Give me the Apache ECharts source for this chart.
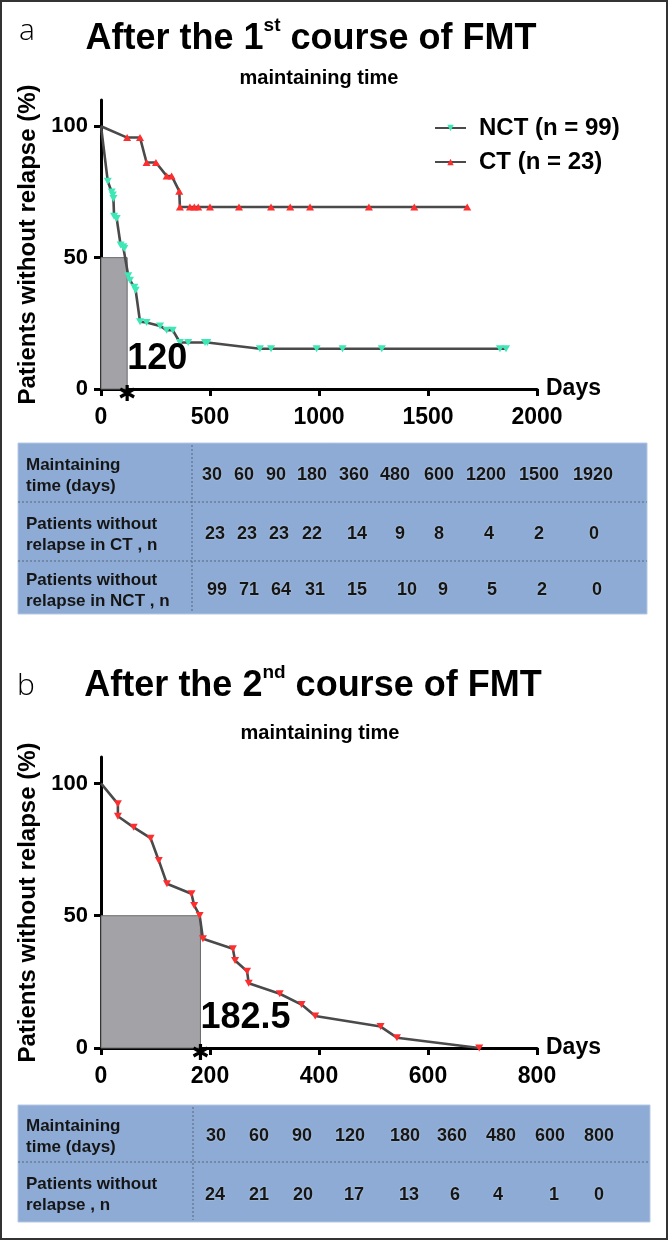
<!DOCTYPE html>
<html><head><meta charset="utf-8">
<script src="https://cdn.jsdelivr.net/npm/echarts@6/dist/echarts.min.js"></script>
<style>html,body{margin:0;padding:0;background:#fff}#c{width:668px;height:1240px}</style>
</head><body><div id="c"></div>
<script>
const F = "'Liberation Sans', Arial, Helvetica, sans-serif";

// ---------- Panel a data (days, % without relapse) ----------
const nctDays = [0,31,49,54,57,60,72,90,102,107,125,133,153,159,179,209,271,301,329,362,400,477,488,729,780,989,1108,1288,1830,1858];
const nctSurv = [100,79.1,75,73.8,72.5,65.8,64.9,54.8,54.1,53.5,43.1,41.4,38.7,37.6,25.6,25.3,24,22.4,22.4,17.7,17.7,17.7,17.7,15.3,15.3,15.3,15.3,15.3,15.3,15.3];
const ctDays = [0,120,179,209,252,301,324,359,362,408,428,446,500,633,780,868,959,1229,1437,1680];
const ctSurv = [100,95.7,95.7,86.2,86.2,81.1,81.1,75.3,69.3,69.3,69.3,69.3,69.3,69.3,69.3,69.3,69.3,69.3,69.3,69.3];
const medianA = 120;

// ---------- Panel b data ----------
const bDays = [0,31,31,60,91,106,121,166,171,181,187,242,246,268,271,328,368,393,513,543,694];
const bSurv = [100,92.3,87.6,83.4,79.3,70.9,62.1,58.3,53.9,50.1,41.3,37.5,33.1,29.0,24.5,20.5,16.4,12.1,8.1,3.9,0];
const medianB = 182.5;

// ---------- axis ticks ----------
const yTicks = [0,50,100];
const xTicksA = [0,500,1000,1500,2000];
const xTicksB = [0,200,400,600,800];

// ---------- tables ----------
const tA_time = ['30','60','90','180','360','480','600','1200','1500','1920'];
const tA_ct   = ['23','23','23','22','14','9','8','4','2','0'];
const tA_nct  = ['99','71','64','31','15','10','9','5','2','0'];
const tB_time = ['30','60','90','120','180','360','480','600','800'];
const tB_n    = ['24','21','20','17','13','6','4','1','0'];

const downTri = 'path://M0,0 L10,0 L5,8.66 Z';
const asterisk = 'path://M-1.2,6 L1.2,6 L1.2,-6 L-1.2,-6 Z M4.596,4.039 L5.796,1.961 L-4.596,-4.039 L-5.796,-1.961 Z M-5.796,1.961 L-4.596,4.039 L5.796,-1.961 L4.596,-4.039 Z';

function pts(d, v) { return d.map((x, i) => i === 0 ? {value: [x, v[i]], symbol: 'none'} : [x, v[i]]); }

const chart = echarts.init(document.getElementById('c'), null, {renderer: 'canvas'});

function xAxis(gi, max, interval, ticks) {
  return {
    type: 'value', gridIndex: gi, min: 0, max: max, interval: interval,
    name: 'Days', nameLocation: 'end', nameGap: 9,
    nameTextStyle: {fontFamily: F, fontWeight: 'bold', fontSize: 23, color: '#000', verticalAlign: 'middle'},
    axisLine: {show: true, onZero: false, lineStyle: {color: '#000', width: 3}},
    axisTick: {show: true, length: 7, lineStyle: {color: '#000', width: 3}, customValues: ticks},
    axisLabel: {fontFamily: F, fontWeight: 'bold', fontSize: 23, color: '#000', margin: 17, customValues: ticks,
      formatter: v => String(v)},
    splitLine: {show: false}
  };
}
function yAxis(gi) {
  return {
    type: 'value', gridIndex: gi, min: 0, max: 110, interval: 50,
    name: 'Patients without relapse (%)', nameLocation: 'middle', nameGap: 56,
    nameTextStyle: {fontFamily: F, fontWeight: 'bold', fontSize: 24, color: '#000'},
    axisLine: {show: true, onZero: false, lineStyle: {color: '#000', width: 3}},
    axisTick: {show: true, length: 7, lineStyle: {color: '#000', width: 3}, customValues: yTicks},
    axisLabel: {fontFamily: F, fontWeight: 'bold', fontSize: 22, color: '#000', margin: 13, customValues: yTicks,
      formatter: v => String(v)},
    splitLine: {show: false}
  };
}

const lineStyle = {color: '#4a4a4a', width: 2.6};

function medianSeries(gi, med) {
  return [{
    type: 'line', xAxisIndex: gi, yAxisIndex: gi, data: [], z: 1, silent: true,
    markArea: {silent: true, itemStyle: {color: '#a3a3a7', borderColor: '#6a6a6a', borderWidth: 1, opacity: 1},
      data: [[{coord: [0, 0]}, {coord: [med, 50]}]]}
  }, {
    type: 'scatter', xAxisIndex: gi, yAxisIndex: gi, z: 5, silent: true,
    data: [[med, 0]], symbol: asterisk, symbolSize: 16, symbolKeepAspect: true, symbolOffset: [0, 4],
    itemStyle: {color: '#000', opacity: 1},
    label: {show: true, formatter: String(med), position: 'top', align: 'left', offset: [0, -3],
      fontFamily: F, fontWeight: 'bold', fontSize: 36, color: '#000', opacity: 1}
  }];
}

// ---------- graphic: titles, tables, border ----------
const graphic = [];
graphic.push({type: 'rect', shape: {x: 1, y: 1, width: 666, height: 1238}, style: {fill: 'none', stroke: '#333', lineWidth: 2}, z: 100});
function titleText(cx, cy, pre, sup, post) {
  graphic.push({type: 'text', x: cx, y: cy, style: {
    text: '{t|' + pre + '}{s|' + sup + '}{t|' + post + '}', align: 'center', verticalAlign: 'middle',
    rich: {t: {fontSize: 36, fontWeight: 'bold', fontFamily: F, fill: '#000'},
           s: {fontSize: 19, fontWeight: 'bold', fontFamily: F, fill: '#000', padding: [0, 0, 26, 0]}}}});
}
function plainText(x, y, txt, size, weight, align, fam) {
  graphic.push({type: 'text', x: x, y: y, style: {text: txt, fontSize: size, fontWeight: weight, fontFamily: fam || F,
    fill: '#000', align: align || 'center', verticalAlign: 'middle'}});
}
plainText(27, 31, 'a', 30, 300, 'center', "'Open Sans', 'Lato', sans-serif");
titleText(311, 39, 'After the 1', 'st', ' course of FMT');
plainText(319, 78, 'maintaining time', 20, 'bold');
plainText(26, 686, 'b', 30, 300, 'center', "'Open Sans', 'Lato', sans-serif");
titleText(313, 686, 'After the 2', 'nd', ' course of FMT');
plainText(320, 733, 'maintaining time', 20, 'bold');

function table(left, right, rows, sep, labels, values, cols) {
  const top = rows[0], bottom = rows[rows.length - 1];
  graphic.push({type: 'rect', shape: {x: left, y: top, width: right - left, height: bottom - top},
    style: {fill: '#8dabd4', stroke: '#b4c8e4', lineWidth: 1}});
  for (let r = 1; r < rows.length - 1; r++) {
    graphic.push({type: 'line', shape: {x1: left, y1: rows[r], x2: right, y2: rows[r]},
      style: {stroke: '#56667c', lineWidth: 1, lineDash: [2, 2]}});
  }
  graphic.push({type: 'line', shape: {x1: sep, y1: top + 2, x2: sep, y2: bottom - 2},
    style: {stroke: '#56667c', lineWidth: 1, lineDash: [2, 2]}});
  for (let r = 0; r < labels.length; r++) {
    const cy = (rows[r] + rows[r + 1]) / 2 + 3;
    graphic.push({type: 'text', x: left + 8, y: cy, style: {text: labels[r].join('\n'), fontSize: 17, fontWeight: 'bold',
      fontFamily: F, fill: '#151515', align: 'left', verticalAlign: 'middle', lineHeight: 21}});
    values[r].forEach((v, i) => {
      graphic.push({type: 'text', x: cols[r][i], y: cy, style: {text: v, fontSize: 18, fontWeight: 'bold', fontFamily: F,
        fill: '#151515', align: 'center', verticalAlign: 'middle', textShadowColor: 'rgba(255,255,255,0.5)', textShadowBlur: 2}});
    });
  }
}
table(18, 647, [443, 502, 561, 614], 192,
  [['Maintaining', 'time (days)'], ['Patients without', 'relapse in CT , n'], ['Patients without', 'relapse in NCT , n']],
  [tA_time, tA_ct, tA_nct],
  [[212,244,276,312,354,395,439,486,539,593],[215,247,279,312,357,400,439,489,539,594],[217,249,281,315,357,407,443,492,542,597]]);
table(18, 650, [1105, 1162, 1222], 193,
  [['Maintaining', 'time (days)'], ['Patients without', 'relapse , n']],
  [tB_time, tB_n],
  [[216,259,302,350,405,452,501,550,599],[215,259,303,354,409,455,498,554,599]]);

const option = {
  animation: false,
  backgroundColor: '#fff',
  grid: [
    {left: 101, top: 100, width: 436, height: 289},
    {left: 101, top: 757, width: 436, height: 291}
  ],
  xAxis: [xAxis(0, 2000, 500, xTicksA), xAxis(1, 800, 200, xTicksB)],
  yAxis: [yAxis(0), yAxis(1)],
  legend: {
    orient: 'vertical', left: 429, top: 111, itemGap: 10, itemWidth: 31, itemHeight: 8,
    data: ['NCT (n = 99)', 'CT (n = 23)'],
    textStyle: {fontFamily: F, fontWeight: 'bold', fontSize: 24, color: '#000', padding: [0, 0, 0, 8]}
  },
  series: [
    ...medianSeries(0, medianA),
    {type: 'line', name: 'NCT (n = 99)', xAxisIndex: 0, yAxisIndex: 0, z: 3, data: pts(nctDays, nctSurv),
      symbol: downTri, symbolSize: [8, 7], showAllSymbol: true, lineStyle: lineStyle, itemStyle: {color: '#3ee8b6'}},
    {type: 'line', name: 'CT (n = 23)', xAxisIndex: 0, yAxisIndex: 0, z: 3, data: pts(ctDays, ctSurv),
      symbol: 'triangle', symbolSize: [8, 7], showAllSymbol: true, lineStyle: lineStyle, itemStyle: {color: '#ff2e2e'}},
    ...medianSeries(1, medianB),
    {type: 'line', name: 'b', xAxisIndex: 1, yAxisIndex: 1, z: 3, data: pts(bDays, bSurv),
      symbol: downTri, symbolSize: [8, 7], showAllSymbol: true, lineStyle: lineStyle, itemStyle: {color: '#ff2e2e'}}
  ],
  graphic: graphic
};
chart.setOption(option);
</script></body></html>
